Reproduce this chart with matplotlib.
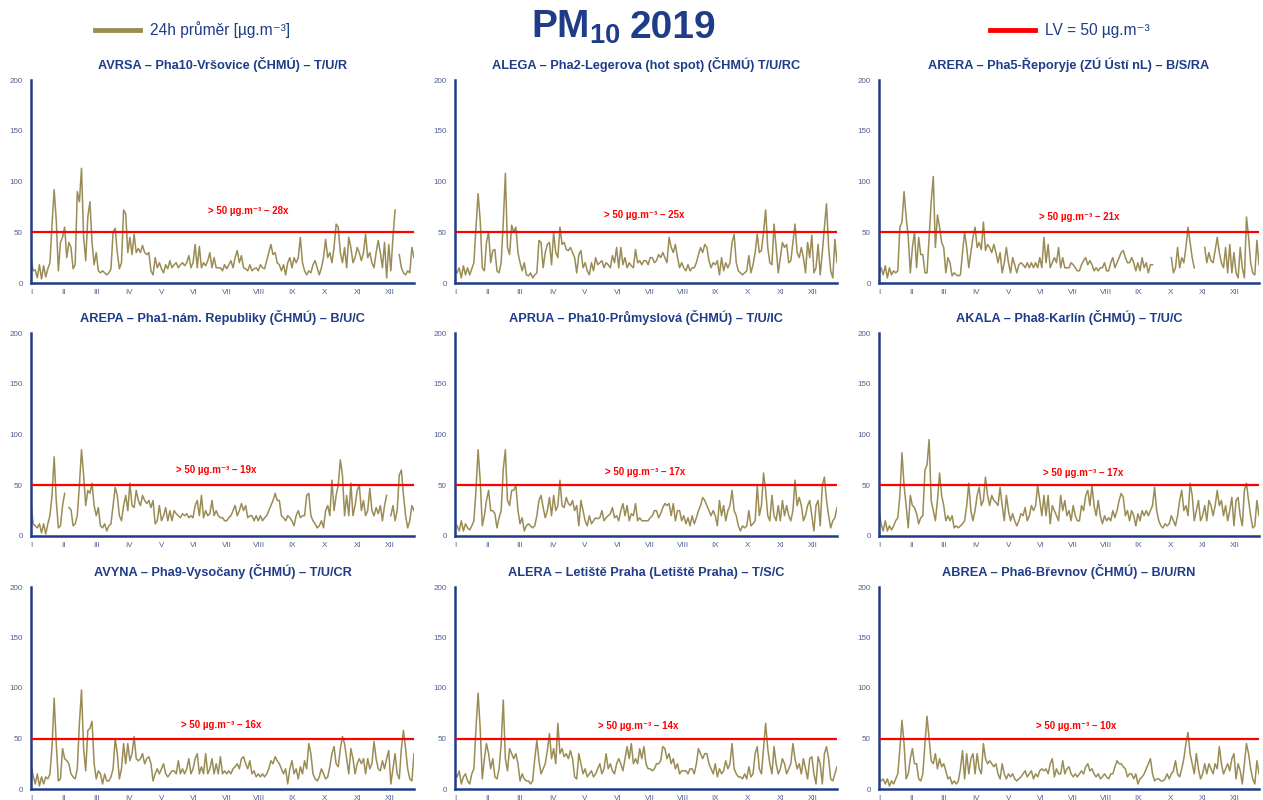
import numpy as np
import matplotlib
matplotlib.use("Agg")
import matplotlib.pyplot as plt
from matplotlib.lines import Line2D

nan = np.nan

# ---------------- data (2-day resolution, values in µg/m3) ----------------
months = ["I", "II", "III", "IV", "V", "VI", "VII", "VIII", "IX", "X", "XI", "XII"]
limit_value = 50
titles = [
    "AVRSA – Pha10-Vršovice (ČHMÚ) – T/U/R",
    "ALEGA – Pha2-Legerova (hot spot) (ČHMÚ) T/U/RC",
    "ARERA – Pha5-Řeporyje (ZÚ Ústí nL) – B/S/RA",
    "AREPA – Pha1-nám. Republiky (ČHMÚ) – B/U/C",
    "APRUA – Pha10-Průmyslová (ČHMÚ) – T/U/IC",
    "AKALA – Pha8-Karlín (ČHMÚ) – T/U/C",
    "AVYNA – Pha9-Vysočany (ČHMÚ) – T/U/CR",
    "ALERA – Letiště Praha (Letiště Praha) – T/S/C",
    "ABREA – Pha6-Břevnov (ČHMÚ) – B/U/RN",
]
exceedances = [28, 25, 21, 19, 17, 17, 16, 14, 10]

avrsa = [
    [25, 12, 13, 5, 18, 4, 17, 6, 14, 20, 58, 92, 62, 12, 40, 45],
    [55, 25, 40, 35, 14, 18, 90, 80, 113, 45, 22, 65, 80, 40],
    [18, 30, 12, 10, 12, 10, 8, 10, 14, 50, 54, 30, 14, 20, 72],
    [68, 30, 45, 28, 48, 30, 34, 30, 37, 30, 28, 30, 12, 8, 25],
    [15, 20, 14, 10, 18, 14, 22, 15, 18, 20, 15, 18, 20, 17, 20, 27],
    [15, 20, 38, 15, 36, 15, 20, 17, 22, 30, 15, 25, 15, 15, 15],
    [12, 18, 14, 18, 22, 15, 25, 32, 20, 27, 15, 14, 12, 18, 12, 14],
    [15, 12, 18, 15, 14, 22, 30, 38, 28, 30, 20, 18, 12, 18, 8],
    [20, 25, 15, 25, 20, 25, 45, 20, 12, 8, 12, 10, 18, 22, 15],
    [8, 15, 25, 43, 25, 30, 20, 35, 58, 55, 30, 20, 35, 15, 45, 35],
    [20, 25, 35, 30, 22, 30, 48, 25, 30, 20, 15, 30, 42, 30, 15],
    [40, 5, 38, 12, 45, 72, nan, 28, 15, 10, 8, 12, 10, 35, 25],
]
alega = [
    [12, 10, 15, 5, 17, 8, 15, 8, 14, 20, 55, 88, 62, 15, 12, 40],
    [50, 20, 32, 33, 12, 10, 20, 60, 108, 35, 28, 57, 50, 55],
    [30, 20, 12, 20, 8, 7, 10, 5, 8, 10, 42, 40, 15, 30, 38],
    [40, 18, 50, 30, 25, 55, 38, 40, 33, 32, 35, 30, 25, 10, 28],
    [32, 15, 20, 12, 8, 20, 12, 25, 18, 20, 22, 15, 20, 18, 15, 27],
    [20, 35, 15, 35, 18, 25, 15, 20, 17, 15, 33, 20, 22, 18, 22],
    [22, 18, 25, 25, 20, 22, 28, 25, 30, 25, 20, 45, 35, 30, 38, 25],
    [15, 20, 15, 12, 18, 12, 15, 15, 20, 28, 35, 30, 38, 35, 22],
    [15, 20, 18, 22, 8, 25, 12, 20, 15, 20, 40, 48, 20, 12, 10],
    [8, 10, 12, 27, 10, 18, 30, 48, 30, 32, 50, 72, 35, 20, 18, 58],
    [35, 10, 25, 40, 35, 38, 20, 22, 40, 58, 30, 25, 35, 25, 10],
    [40, 25, 47, 10, 15, 38, 8, 30, 55, 78, 35, 12, 5, 43, 20],
]
arera = [
    [10, 15, 8, 17, 5, 15, 8, 12, 10, 12, 55, 60, 90, 65, 45, 10],
    [35, 50, 15, 45, 28, 28, 10, 10, 45, 80, 105, 35, 67, 55],
    [40, 35, 10, 25, 20, 7, 10, 8, 7, 8, 30, 50, 35, 15, 30],
    [45, 55, 35, 40, 33, 60, 32, 38, 35, 30, 38, 30, 20, 30, 10],
    [20, 35, 20, 10, 25, 18, 10, 18, 20, 18, 15, 20, 15, 20, 15, 20],
    [15, 25, 15, 45, 20, 38, 15, 20, 25, 20, 35, 15, 25, 15, 15],
    [15, 20, 18, 15, 12, 12, 18, 22, 25, 18, 22, 18, 12, 15, 12, 15],
    [15, 20, 12, 12, 20, 25, 15, 20, 25, 30, 32, 25, 20, 20, 25],
    [20, 12, 20, 12, 25, 15, 20, 10, 18, 18, nan, nan, nan, nan, nan],
    [nan, nan, nan, 25, 10, 15, 35, 15, 25, 20, 35, 55, 40, 25, 15, nan],
    [nan, nan, nan, 35, 20, 30, 22, 20, 32, 45, 30, 20, 15, 35, 10],
    [38, 10, 30, 10, 5, 35, 15, 5, 65, 45, 20, 10, 8, 42, 18],
]
arepa = [
    [33, 12, 10, 8, 12, 3, 12, 2, 12, 20, 40, 78, 35, 8, 10, 30],
    [42, nan, 28, 26, 10, 12, 20, 50, 85, 60, 30, 45, 42, 52],
    [30, 20, 28, 10, 8, 12, 5, 10, 12, 30, 48, 40, 20, 15, 30],
    [40, 25, 52, 30, 28, 45, 35, 30, 40, 35, 32, 35, 28, 35, 12],
    [15, 30, 15, 20, 28, 15, 25, 15, 25, 22, 20, 18, 22, 20, 22, 18],
    [20, 18, 30, 35, 20, 40, 18, 25, 20, 22, 35, 20, 25, 20, 18],
    [18, 15, 15, 18, 20, 25, 30, 20, 25, 32, 25, 30, 18, 20, 20, 15],
    [20, 15, 20, 15, 18, 20, 25, 30, 35, 42, 35, 35, 20, 18, 15],
    [20, 18, 15, 10, 20, 25, 18, 20, 20, 40, 42, 20, 15, 12, 8],
    [10, 15, 8, 25, 30, 20, 55, 25, 40, 50, 75, 60, 20, 40, 20, 52],
    [20, 30, 45, 50, 25, 35, 20, 25, 47, 25, 20, 28, 22, 30, 15],
    [30, 40, nan, 20, 30, 15, 25, 60, 65, 40, 20, 8, 15, 30, 25],
]
aprua = [
    [12, 10, 5, 15, 5, 12, 8, 6, 10, 15, 45, 85, 55, 10, 20, 35],
    [45, 25, 25, 22, 8, 18, 25, 66, 85, 35, 30, 45, 45, 50],
    [25, 12, 18, 5, 10, 12, 10, 8, 10, 20, 35, 40, 28, 18, 25],
    [38, 20, 40, 25, 30, 55, 30, 28, 38, 32, 30, 35, 25, 30, 10],
    [35, 25, 15, 10, 20, 12, 15, 18, 17, 18, 25, 15, 18, 20, 22, 28],
    [18, 20, 15, 25, 32, 20, 30, 15, 22, 20, 32, 15, 18, 15, 15],
    [15, 15, 18, 20, 25, 25, 18, 22, 28, 32, 30, 32, 20, 32, 15, 25],
    [25, 15, 20, 12, 18, 10, 20, 12, 18, 25, 30, 38, 35, 30, 25],
    [20, 25, 20, 10, 35, 20, 30, 15, 25, 30, 45, 25, 20, 10, 5],
    [10, 8, 10, 25, 10, 12, 15, 50, 20, 30, 62, 45, 20, 15, 40, 20],
    [15, 30, 15, 35, 20, 30, 20, 15, 25, 55, 30, 38, 30, 15, 20],
    [30, 35, 20, 5, 30, 35, 10, 50, 58, 35, 20, 8, 15, 18, 28],
]
akala = [
    [25, 12, 5, 15, 5, 10, 6, 10, 15, 18, 40, 82, 50, 30, 8, 40],
    [30, 28, 22, 12, 18, 20, 65, 70, 95, 35, 25, 15, 35, 62],
    [40, 30, 15, 20, 15, 20, 8, 10, 8, 10, 12, 15, 30, 52, 25],
    [15, 25, 40, 48, 30, 35, 58, 40, 30, 40, 35, 33, 30, 48, 30],
    [15, 40, 25, 15, 22, 15, 10, 15, 22, 20, 28, 15, 20, 30, 25, 30],
    [50, 35, 20, 40, 20, 40, 12, 30, 25, 20, 15, 40, 25, 35, 20],
    [25, 15, 30, 20, 15, 15, 30, 25, 40, 45, 30, 50, 30, 20, 35, 20],
    [12, 20, 15, 18, 15, 25, 18, 25, 35, 42, 38, 20, 25, 15, 25],
    [20, 10, 22, 15, 25, 20, 25, 20, 25, 30, 48, 25, 15, 10, 8],
    [12, 10, 12, 20, 15, 10, 20, 35, 45, 25, 30, 20, 52, 40, 15, 25],
    [35, 15, 20, 30, 15, 35, 30, 20, 30, 45, 30, 35, 20, 30, 15],
    [25, 38, 10, 35, 38, 20, 10, 45, 52, 35, 20, 8, 10, 35, 20],
]
avyna = [
    [25, 13, 5, 15, 3, 12, 5, 12, 10, 15, 42, 90, 45, 8, 10, 40],
    [30, 28, 25, 15, 12, 10, 20, 65, 98, 40, 18, 58, 60, 67],
    [25, 10, 18, 15, 5, 15, 8, 8, 12, 20, 50, 35, 10, 20, 45],
    [25, 45, 28, 35, 52, 30, 28, 30, 35, 25, 30, 32, 25, 8, 15],
    [20, 15, 20, 25, 15, 12, 15, 18, 18, 15, 28, 15, 20, 15, 20, 30],
    [15, 20, 30, 35, 15, 22, 15, 35, 15, 20, 30, 15, 25, 15, 32],
    [15, 18, 15, 18, 15, 20, 22, 25, 20, 30, 32, 25, 20, 28, 15, 18],
    [12, 15, 12, 15, 12, 15, 20, 28, 25, 32, 28, 25, 20, 15, 20],
    [5, 20, 28, 15, 20, 10, 22, 15, 28, 20, 45, 35, 15, 10, 8],
    [12, 20, 15, 10, 12, 22, 35, 42, 25, 22, 40, 52, 45, 30, 15, 40],
    [30, 15, 25, 30, 25, 30, 15, 30, 20, 25, 47, 30, 20, 18, 28],
    [20, 30, 38, 5, 20, 35, 15, 10, 40, 58, 40, 20, 10, 8, 35],
]
alera = [
    [15, 12, 18, 5, 12, 15, 8, 5, 15, 20, 60, 95, 60, 10, 30, 45],
    [35, 20, 30, 12, 10, 20, 45, 88, 30, 18, 40, 35, 30, 35],
    [25, 8, 15, 10, 8, 8, 5, 8, 30, 48, 28, 15, 20, 25, 38],
    [55, 30, 40, 25, 65, 35, 40, 32, 35, 30, 38, 30, 12, 10, 35],
    [25, 15, 20, 12, 15, 18, 12, 15, 20, 25, 15, 20, 35, 20, 25, 18],
    [15, 25, 30, 25, 18, 30, 42, 30, 45, 25, 30, 25, 40, 30, 42],
    [25, 20, 20, 18, 20, 25, 25, 28, 42, 40, 30, 35, 25, 30, 20, 25],
    [15, 18, 18, 18, 15, 20, 20, 15, 25, 40, 35, 30, 35, 35, 25],
    [20, 15, 25, 12, 20, 15, 18, 28, 20, 25, 45, 20, 15, 12, 12],
    [10, 15, 10, 22, 12, 15, 35, 42, 20, 15, 40, 65, 40, 25, 15, 42],
    [25, 15, 20, 30, 25, 15, 20, 25, 45, 30, 20, 25, 15, 30, 20],
    [10, 30, 32, 15, 5, 32, 25, 5, 35, 42, 30, 10, 8, 15, 22],
]
abrea = [
    [10, 8, 10, 5, 10, 3, 8, 5, 10, 15, 40, 68, 45, 10, 15, 30],
    [40, 25, 25, 10, 8, 15, 45, 72, 50, 28, 25, 35, 20, 30],
    [22, 25, 18, 10, 12, 5, 8, 5, 8, 20, 38, 10, 35, 15, 30],
    [35, 15, 35, 20, 15, 45, 30, 25, 28, 25, 22, 25, 15, 10, 25],
    [15, 10, 15, 12, 15, 10, 8, 10, 12, 15, 18, 12, 15, 18, 10, 15],
    [12, 18, 20, 18, 20, 15, 25, 30, 12, 20, 15, 15, 28, 15, 20],
    [22, 15, 12, 15, 12, 15, 18, 15, 22, 25, 18, 20, 15, 12, 15, 10],
    [12, 15, 12, 10, 15, 15, 22, 28, 25, 25, 22, 20, 12, 15, 15],
    [10, 15, 5, 10, 12, 15, 20, 25, 30, 15, 8, 10, 10, 8, 8],
    [10, 15, 10, 15, 18, 28, 15, 12, 20, 30, 45, 56, 35, 25, 15, 35],
    [20, 10, 15, 25, 15, 25, 20, 15, 25, 20, 42, 25, 15, 20, 25],
    [18, 30, 35, 10, 25, 18, 5, 25, 45, 35, 20, 10, 5, 28, 15],
]
series = [avrsa, alega, arera, arepa, aprua, akala, avyna, alera, abrea]

# ---------------- style ----------------
plt.rcParams["font.family"] = ["Liberation Sans", "DejaVu Sans"]
plt.rcParams["mathtext.fontset"] = "custom"
plt.rcParams["mathtext.rm"] = "Liberation Sans"
plt.rcParams["mathtext.bf"] = "Liberation Sans:bold"

NAVY = "#1F3C88"
TICK = "#4F5F92"
OLIVE = "#9A8C55"
RED = "#FF0000"

W, H = 1263, 800
fig = plt.figure(figsize=(W / 100, H / 100), dpi=100)

col_l = [31, 455, 879]
col_r = [414, 837, 1259]
row_t = [80, 333, 587]
row_b = [283, 536, 789]
ann_pos = [(207, 71), (181, 67), (193, 65),
           (177, 65), (182, 63), (197, 62),
           (182, 63), (176, 62), (190, 62)]

days = np.arange(1, 366, 2)
month_pos = [1 + 31 * i for i in range(12)]

for k in range(9):
    r, c = divmod(k, 3)
    l, rr, t, b = col_l[c], col_r[c], row_t[r], row_b[r]
    ax = fig.add_axes([l / W, 1 - b / H, (rr - l) / W, (b - t) / H])
    vals = np.concatenate([np.asarray(m, dtype=float) for m in series[k]])
    assert len(vals) == len(days), (k, len(vals))
    ax.plot(days, vals, color=OLIVE, lw=1.1, zorder=2)
    ax.axhline(limit_value, color=RED, lw=1.6, zorder=3)
    ax.set_xlim(1, 365)
    ax.set_ylim(0, 200)
    for s in ("top", "right"):
        ax.spines[s].set_visible(False)
    for s in ("left", "bottom"):
        ax.spines[s].set_color(NAVY)
        ax.spines[s].set_linewidth(1.8)
    ax.set_yticks([0, 50, 100, 150, 200])
    ax.set_xticks(month_pos)
    ax.set_xticklabels(months)
    ax.tick_params(axis="both", length=0, labelsize=5.8, labelcolor=TICK)
    ax.tick_params(axis="y", pad=6)
    ax.tick_params(axis="x", pad=4)
    ax.set_title(titles[k], fontsize=9.2, fontweight="bold", color=NAVY, pad=8)
    ax.text(ann_pos[k][0], ann_pos[k][1], f"> 50 µg.m⁻³ – {exceedances[k]}x",
            ha="center", va="center", color=RED, fontsize=7, fontweight="bold")

# ---------------- header ----------------
fig.text(621 / W, 1 - 38 / H, r"$\mathbf{PM_{10}}$", ha="right",
         va="baseline", fontsize=28, color=NAVY)
fig.text(630 / W, 1 - 38 / H, "2019", ha="left", fontweight="bold",
         va="baseline", fontsize=28, color=NAVY)
fig.add_artist(Line2D([95 / W, 140 / W], [1 - 30 / H] * 2, color=OLIVE, lw=3.5,
                      transform=fig.transFigure))
fig.text(150 / W, 1 - 30 / H, "24h průměr [µg.m⁻³]", ha="left", va="center",
         fontsize=11.2, color=NAVY)
fig.add_artist(Line2D([990 / W, 1035 / W], [1 - 30 / H] * 2, color=RED, lw=3.5,
                      transform=fig.transFigure))
fig.text(1045 / W, 1 - 30 / H, "LV = 50 µg.m⁻³", ha="left", va="center",
         fontsize=11.2, color=NAVY)

fig.savefig("out.png", dpi=100)
